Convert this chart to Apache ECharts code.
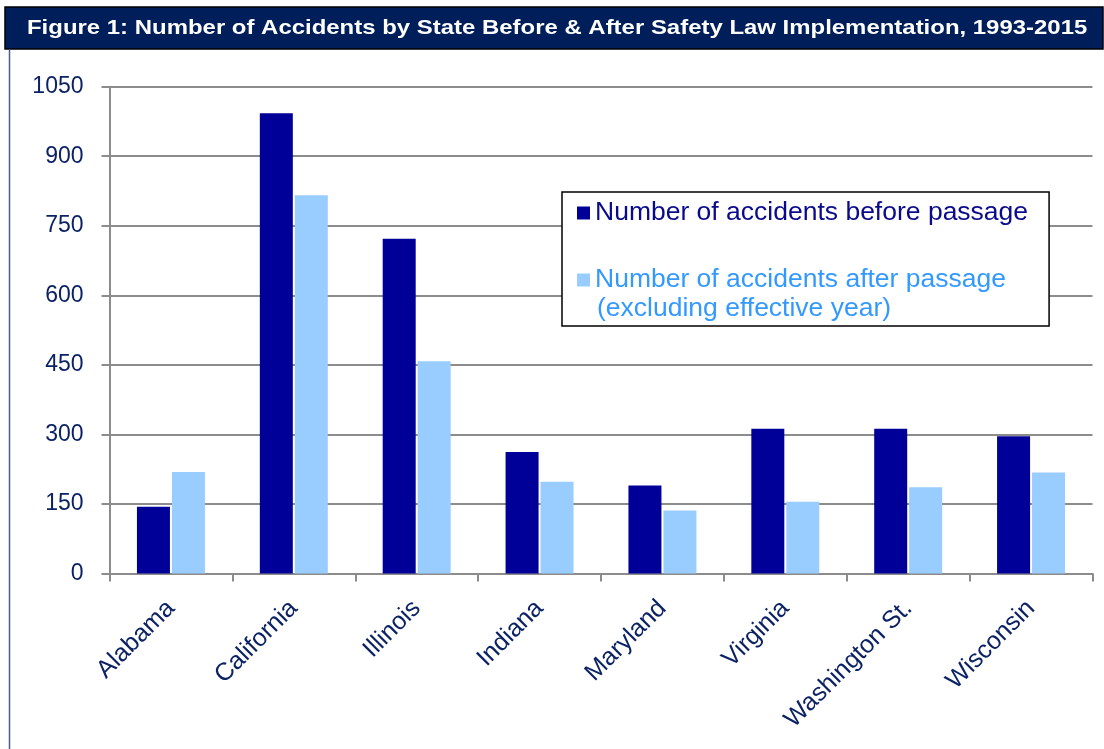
<!DOCTYPE html>
<html>
<head>
<meta charset="utf-8">
<script src="https://cdn.jsdelivr.net/npm/echarts@6/dist/echarts.min.js"></script>
<style>
html,body{margin:0;padding:0;background:#fff;}
#chart{width:1104px;height:749px;}
</style>
</head>
<body>
<div id="chart"></div>
<script>
const titleText = 'Figure 1: Number of Accidents by State Before & After Safety Law Implementation, 1993-2015';
const states = ['Alabama', 'California', 'Illinois', 'Indiana', 'Maryland', 'Virginia', 'Washington St.', 'Wisconsin'];
const beforeName = 'Number of accidents before passage';
const afterName = 'Number of accidents after passage';
const afterNote = '(excluding effective year)';
const beforeValues = [144, 993, 722, 262, 190, 312, 312, 296];
const afterValues = [219, 816, 458, 198, 136, 155, 186, 218];
const yTicks = [0, 150, 300, 450, 600, 750, 900, 1050];

const FONT = '"Liberation Sans", Arial, sans-serif';
const NAVY = '#0B2265';
const chart = echarts.init(document.getElementById('chart'), null, {renderer: 'canvas'});

chart.setOption({
  animation: false,
  backgroundColor: '#ffffff',
  textStyle: {fontFamily: FONT},
  graphic: [
    {type: 'rect', z: 0, shape: {x: 5, y: 7, width: 1098, height: 42},
     style: {fill: '#001E5A', stroke: '#000000', lineWidth: 1.5}},
    {type: 'line', z: 0, shape: {x1: 9.5, y1: 49, x2: 9.5, y2: 749},
     style: {stroke: '#4B5B8B', lineWidth: 1.5}},
    {type: 'text', z: 10, x: 27, y: 28, scaleX: 1.14, scaleY: 1,
     style: {text: titleText, fill: '#ffffff', font: 'bold 21px ' + FONT,
             verticalAlign: 'middle', align: 'left'}},
    {type: 'text', z: 100, x: 597, y: 309,
     style: {text: afterNote, fill: '#3399FF', font: '26.5px ' + FONT,
             verticalAlign: 'middle', align: 'left'}}
  ],
  legend: {
    orient: 'vertical',
    left: 562, top: 192,
    padding: [6, 21, 31, 15],
    itemGap: 37,
    itemWidth: 13, itemHeight: 13,
    icon: 'rect',
    borderColor: '#000000', borderWidth: 1.5,
    backgroundColor: '#ffffff',
    data: [
      {name: beforeName, textStyle: {color: '#0A0A8C'}},
      {name: afterName, textStyle: {color: '#3399FF'}}
    ],
    textStyle: {fontSize: 26.5, fontFamily: FONT, lineHeight: 30, padding: [0, 0, 0, 0]},
    z: 50
  },
  grid: {left: 109.5, right: 11.5, top: 86.7, bottom: 175.5, containLabel: false},
  xAxis: {
    type: 'category',
    data: states,
    axisLine: {lineStyle: {color: '#8C8C8C', width: 2}},
    axisTick: {show: true, length: 8, lineStyle: {color: '#8C8C8C', width: 2}},
    axisLabel: {rotate: 45, margin: 31, fontSize: 25, color: NAVY, fontFamily: FONT, interval: 0}
  },
  yAxis: {
    type: 'value',
    min: 0, max: 1050, interval: 150,
    axisLine: {show: true, lineStyle: {color: '#8C8C8C', width: 2}},
    axisTick: {show: true, length: 8, lineStyle: {color: '#8C8C8C', width: 2}},
    splitLine: {lineStyle: {color: '#8C8C8C', width: 2}},
    axisLabel: {
      fontSize: 23, color: NAVY, fontFamily: FONT, margin: 26,
      formatter: function (v) { return yTicks.indexOf(v) >= 0 ? String(v) : ''; }
    }
  },
  series: [
    {name: beforeName, type: 'bar', data: beforeValues, barWidth: 33, barGap: '6%',
     itemStyle: {color: '#000099'}},
    {name: afterName, type: 'bar', data: afterValues, barWidth: 33,
     itemStyle: {color: '#99CCFF'}}
  ]
});
</script>
</body>
</html>
